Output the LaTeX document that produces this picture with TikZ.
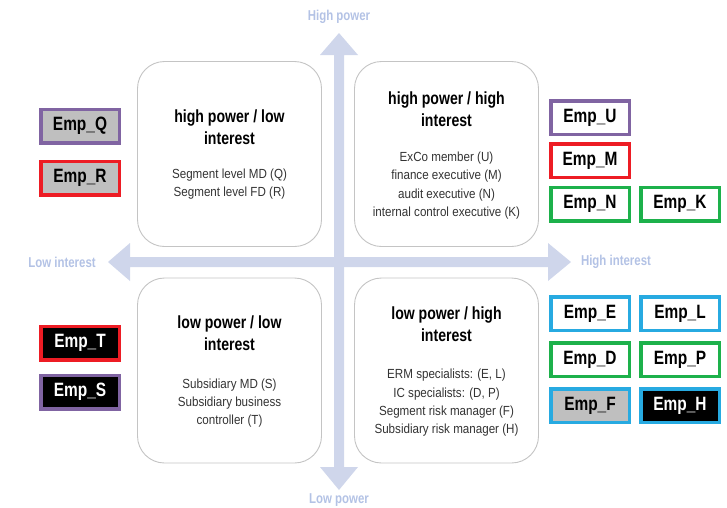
\documentclass[tikz,border=0pt]{standalone}
\usepackage{fontspec}
\setmainfont{Liberation Sans}[FakeStretch=0.8]
\newfontfamily\bodyfont{Liberation Sans}[FakeStretch=0.88]
\begin{document}
\definecolor{axis}{HTML}{CFD6EB}
\definecolor{axislbl}{HTML}{B3C2E5}
\definecolor{frame}{HTML}{C4C4C4}
\definecolor{tagpurple}{HTML}{8064A2}
\definecolor{tagred}{HTML}{ED1C24}
\definecolor{taggreen}{HTML}{1DB14B}
\definecolor{tagblue}{HTML}{27AAE1}
\definecolor{taggray}{HTML}{BFBFBF}
\begin{tikzpicture}[x=1pt,y=-1pt,
  quad/.style={draw=frame,line width=0.9pt,rounded corners=27pt,fill=white,
    minimum width=184pt,minimum height=185pt,inner sep=0pt},
  quadtitle/.style={align=center,font=\fontsize{17.6}{22}\selectfont\bfseries,text=black},
  quadbody/.style={align=center,font=\bodyfont\fontsize{13.2}{18.3}\selectfont,text=black!80},
  axislabel/.style={font=\fontsize{14.3}{15}\selectfont\bfseries,text=axislbl},
  tag/.style={draw=#1,line width=3.5pt,minimum width=78.5pt,minimum height=33.5pt,
    inner sep=0pt,font=\fontsize{19.3}{20}\selectfont\bfseries},
  light/.style={fill=white,text=black},
  grey/.style={fill=taggray,text=black},
  dark/.style={fill=black,text=white}]
\useasboundingbox (0,0) rectangle (727,507);
% power axis (vertical double arrow)
\fill[axis] (339,33) -- (358,55) -- (344,55) -- (344,467) -- (358,467) -- (339,490)
  -- (320,467) -- (334,467) -- (334,55) -- (320,55) -- cycle;
% interest axis (horizontal double arrow)
\fill[axis] (108,262) -- (130,243) -- (130,257) -- (548,257) -- (548,243) -- (571,262)
  -- (548,281) -- (548,267) -- (130,267) -- (130,281) -- cycle;
\node[axislabel] (hp) at (339,17) {High power};
\node[axislabel] (lp) at (339,500) {Low power};
\node[axislabel] (li) at (62,262) {Low interest};
\node[axislabel] (hi) at (616,262) {High interest};
% quadrants
\node[quad] (q1) at (229.5,154) {};
\node[quad] (q2) at (446.5,154) {};
\node[quad] (q3) at (229.5,370.5) {};
\node[quad] (q4) at (446.5,370.5) {};
\node[quadtitle] (t1) at (229.5,127) {high power / low\\interest};
\node[quadbody] (b1) at (229.5,184) {Segment level MD (Q)\\Segment level FD (R)};
\node[quadtitle] (t2) at (446.5,109) {high power / high\\interest};
\node[quadbody] (b2) at (446.5,185.5) {ExCo member (U)\\finance executive (M)\\audit executive (N)\\internal control executive (K)};
\node[quadtitle] (t3) at (229.5,333.5) {low power / low\\interest};
\node[quadbody] (b3) at (229.5,403) {Subsidiary MD (S)\\Subsidiary business\\controller (T)};
\node[quadtitle] (t4) at (446.5,324.5) {low power / high\\interest};
\node[quadbody] (b4) at (446.5,403) {ERM specialists: (E, L)\\IC specialists: (D, P)\\Segment risk manager (F)\\Subsidiary risk manager (H)};
% stakeholder tags
\node[tag=tagpurple,grey] (eq) at (80,126) {Emp\_Q};
\node[tag=tagred,grey] (er) at (80,178) {Emp\_R};
\node[tag=tagpurple,light] (eu) at (590,117.5) {Emp\_U};
\node[tag=tagred,light] (em) at (590,160.5) {Emp\_M};
\node[tag=taggreen,light] (en) at (590,204) {Emp\_N};
\node[tag=taggreen,light] (ek) at (680,204) {Emp\_K};
\node[tag=tagred,dark] (et) at (80,343) {Emp\_T};
\node[tag=tagpurple,dark] (es) at (80,392) {Emp\_S};
\node[tag=tagblue,light] (ee) at (590,313.5) {Emp\_E};
\node[tag=tagblue,light] (el) at (680,313.5) {Emp\_L};
\node[tag=taggreen,light] (ed) at (590,359.5) {Emp\_D};
\node[tag=taggreen,light] (ep) at (680,359.5) {Emp\_P};
\node[tag=tagblue,grey] (ef) at (590,405.5) {Emp\_F};
\node[tag=tagblue,dark] (eh) at (680,405.5) {Emp\_H};
\end{tikzpicture}
\end{document}
